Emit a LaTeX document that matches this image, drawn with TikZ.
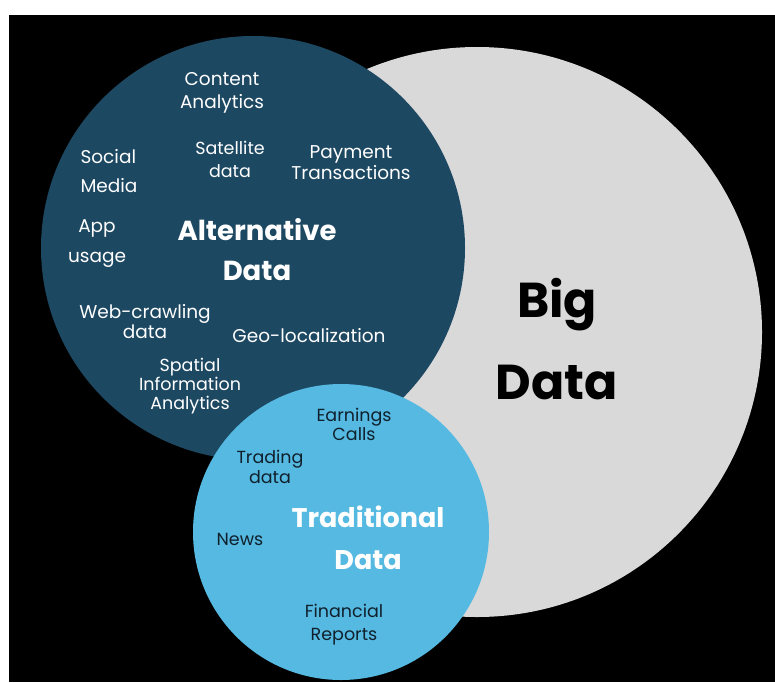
\documentclass[tikz,border=0pt]{standalone}
\usepackage{fontspec}
\setmainfont{Poppins}
\definecolor{bggray}{HTML}{D9D9D9}
\definecolor{altblue}{HTML}{1D4862}
\definecolor{tradblue}{HTML}{55B9E1}
\definecolor{darktext}{HTML}{10202C}
\newcommand{\fsz}[2]{\fontsize{#1}{#2}\selectfont}
\begin{document}
\begin{tikzpicture}[x=1pt,y=-1pt,
  lbl/.style={align=center,inner sep=0pt,text=white,font=\fsz{18.5}{22}},
  dlbl/.style={lbl,text=darktext,font=\fsz{17.5}{20}},
  title/.style={align=center,inner sep=0pt,font=\bfseries\fsz{27.5}{40}},
  circ/.style={circle,inner sep=0pt,draw=none}]
\useasboundingbox (0,0) rectangle (775,682);
\fill[white] (0,0) rectangle (775,682);
\fill[black] (9,15) rectangle (775,682);
\node[circ,fill=bggray,minimum size=570pt] (big) at (477,332) {};
\node[circ,fill=altblue,minimum size=424pt] (alt) at (253,248) {};
\node[circ,fill=tradblue,minimum size=296pt] (trad) at (341,532) {};
% Big data
\node[title,text=black,font=\bfseries\fsz{49}{82}] (bigt) at (557,339) {Big\\Data};
% Alternative data
\node[title,text=white] (altt) at (257,250) {Alternative\\Data};
\node[lbl,font=\fsz{18.5}{23}] (content) at (222,93) {Content\\Analytics};
\node[lbl,align=left,font=\fsz{18.5}{29}] (social) at (109,171) {Social\\Media};
\node[lbl,font=\fsz{17.5}{23}] (sat) at (230,159) {Satellite\\data};
\node[lbl,font=\fsz{18.5}{21}] (pay) at (351,163) {Payment\\Transactions};
\node[lbl,font=\fsz{18.5}{30}] (app) at (97,244) {App\\usage};
\node[lbl,font=\fsz{18.5}{20}] (web) at (145,322) {Web-crawling\\data};
\node[lbl] (geo) at (309,336) {Geo-localization};
\node[lbl,font=\fsz{17.5}{19}] (spatial) at (190,386) {Spatial\\Information\\Analytics};
% Traditional data
\node[title,text=white,font=\bfseries\fsz{27}{42}] (tradt) at (368,538) {Traditional\\Data};
\node[dlbl,font=\fsz{17.5}{19}] (earn) at (354,424) {Earnings\\Calls};
\node[dlbl] (trading) at (270,467) {Trading\\data};
\node[dlbl] (news) at (240,539) {News};
\node[dlbl,font=\fsz{17.5}{23}] (fin) at (344,625) {Financial\\Reports};
\end{tikzpicture}
\end{document}
